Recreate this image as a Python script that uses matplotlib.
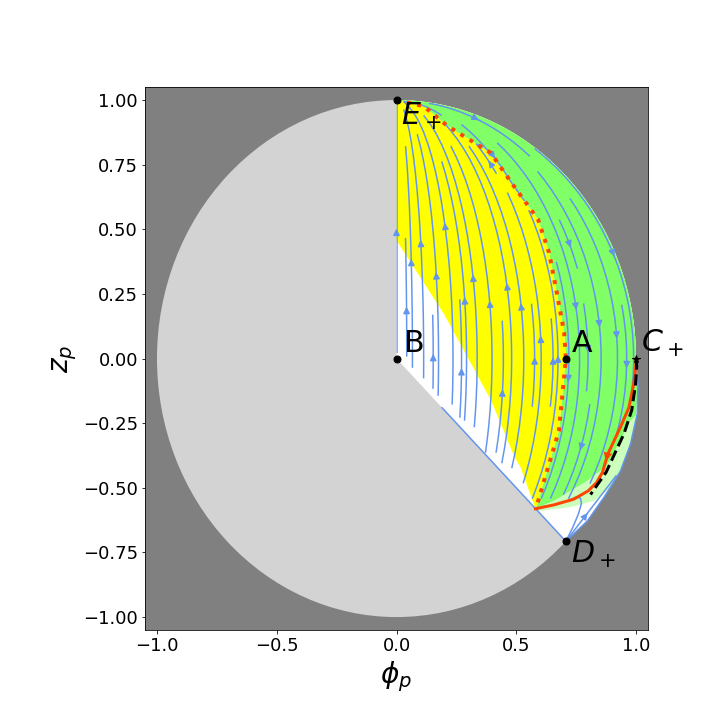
import numpy as np
import matplotlib
matplotlib.use("Agg")
import matplotlib.pyplot as plt
from matplotlib.patches import Polygon, Circle
from matplotlib.path import Path

# fixed points of the flow (phi_p, z_p)
point_labels = ["$E_+$", "B", "A", "$C_+$", "$D_+$"]
point_x = [0.0, 0.0, 0.707, 1.0, 0.707]
point_y = [1.0, 0.0, 0.0, 0.0, -0.707]
label_x = [0.02, 0.03, 0.733, 1.02, 0.727]
label_y = [0.905, 0.025, 0.025, 0.025, -0.79]

# separatrix E+ -> A -> P (dotted red)
sep_x = [0.0, 0.114, 0.212, 0.393, 0.49, 0.591, 0.637, 0.664, 0.70, 0.707, 0.678, 0.616, 0.588, 0.58]
sep_y = [1.0, 0.976, 0.90, 0.796, 0.667, 0.538, 0.409, 0.28, 0.10, 0.0, -0.28, -0.473, -0.562, -0.581]

# orbit P -> C+ (solid orange-red)
orbit_x = [0.58, 0.657, 0.74, 0.80, 0.835, 0.86, 0.882, 0.935, 0.97, 0.99, 0.999, 1.0]
orbit_y = [-0.581, -0.566, -0.544, -0.512, -0.48, -0.44, -0.37, -0.265, -0.19, -0.1, -0.03, 0.0]

# dashed curve from C+
dash_x = [1.0, 1.003, 0.998, 0.982, 0.95, 0.91, 0.875, 0.81]
dash_y = [0.0, -0.03, -0.1, -0.2, -0.29, -0.37, -0.44, -0.526]

# lower edge of the physical region, D+ -> C+
edge_x = [0.707, 0.797, 0.866, 0.935, 0.977, 1.005, 1.008, 1.003, 1.0]
edge_y = [-0.707, -0.628, -0.537, -0.435, -0.33, -0.213, -0.1, -0.03, 0.0]

# lower edge of the yellow region
yel_x = [0.0, 0.199, 0.396, 0.494, 0.518, 0.58]
yel_y = [0.457, 0.171, -0.164, -0.384, -0.42, -0.581]

# pale green band around the orbit: upper and lower edges
pale_top_x = [0.58, 0.657, 0.797, 0.879, 0.935, 0.977, 1.0]
pale_top_y = [-0.581, -0.551, -0.473, -0.414, -0.317, -0.24, -0.22]
pale_bot_x = [0.925, 0.894, 0.824, 0.727, 0.601, 0.58]
pale_bot_y = [-0.45, -0.5, -0.551, -0.575, -0.589, -0.581]

# streamlines leaving D+: along the B-D+ edge and the small hook
diag_x = [0.19, 0.707]
diag_y = [-0.19, -0.707]
hook_x = [0.707, 0.735, 0.76, 0.772, 0.768, 0.75, 0.728]
hook_y = [-0.707, -0.655, -0.6, -0.56, -0.54, -0.535, -0.545]

LINE_BLUE = "cornflowerblue"
ORANGE_RED = "orangered"


def xy(xs, ys):
    return list(zip(xs, ys))


def main() -> None:
    fig = plt.figure(figsize=(10, 10), dpi=72)
    ax = fig.add_axes([0.2014, 0.125, 0.6986, 0.754])
    ax.set_facecolor("gray")
    ax.set_xlim(-1.05, 1.05)
    ax.set_ylim(-1.05, 1.05)

    ax.add_patch(Circle((0, 0), 1.0, fc="lightgray", ec="none", zorder=0.5))

    ang = np.linspace(0, np.pi / 2, 80)
    arc = list(zip(np.cos(ang), np.sin(ang)))  # C+ -> E+
    sep = xy(sep_x, sep_y)
    orbit = xy(orbit_x, orbit_y)
    edge = xy(edge_x, edge_y)

    physical = [(0.0, 0.0)] + edge + arc[1:]
    ax.add_patch(Polygon(physical, closed=True, fc="white", ec="none", zorder=1))

    # E+ -> down the separatrix -> along the pale band -> up the edge -> arc back to E+
    upper_edge = [p for p in edge if p[1] > -0.2]
    green = sep + xy(pale_top_x, pale_top_y)[1:] + upper_edge + arc[1:]
    ax.add_patch(Polygon(green, closed=True, fc="#80ff66", ec="none", zorder=2))

    yellow = sep + xy(yel_x, yel_y)[::-1][1:]
    ax.add_patch(Polygon(yellow, closed=True, fc="yellow", ec="none", zorder=2))

    mid_edge = [p for p in edge[::-1] if -0.45 < p[1] < -0.2]
    pale = xy(pale_top_x, pale_top_y) + mid_edge + xy(pale_bot_x, pale_bot_y)
    ax.add_patch(Polygon(pale, closed=True, fc="#ccffbb", ec="none", zorder=2))

    # flow field: upper part follows arcs through E+, reversing at the separatrix
    gx = np.linspace(0.0, 1.02, 160)
    gy = np.linspace(-0.72, 1.0, 220)
    X, Y = np.meshgrid(gx, gy)
    pts = np.column_stack([X.ravel(), Y.ravel()])

    upper_poly = [(0.0, 0.0)] + orbit + arc[1:]
    inside = Path(upper_poly + [(0.0, 0.0)]).contains_points(pts, radius=0.01).reshape(X.shape)
    xsep = np.interp(Y, sep_y[::-1], sep_x[::-1])
    s = xsep - X
    U = np.where(inside, -X * Y * s, np.nan)
    V = np.where(inside, (1 - Y ** 2) * s, np.nan)
    sp = ax.streamplot(X, Y, U, V, density=(0.95, 1.0), color=LINE_BLUE,
                       linewidth=1.5, arrowsize=1.3, zorder=3)
    clip = Polygon(upper_poly, closed=True, fc="none", ec="none")
    ax.add_patch(clip)
    sp.lines.set_clip_path(clip)

    # lower part: flow leaves D+
    lower_poly = [(0.58, -0.581), (0.707, -0.707)] + edge[1:] + orbit[::-1][1:]
    inside2 = Path(lower_poly).contains_points(pts, radius=0.01).reshape(X.shape)
    U2 = np.where(inside2, X - 0.707, np.nan)
    V2 = np.where(inside2, Y + 0.707, np.nan)
    ax.streamplot(X, Y, U2, V2, density=(0.6, 0.6), color=LINE_BLUE,
                  linewidth=1.5, arrowsize=1.3, zorder=3)

    ax.plot(edge_x, edge_y, color=LINE_BLUE, lw=1.5, zorder=3)
    ax.plot(diag_x, diag_y, color=LINE_BLUE, lw=1.5, zorder=3)
    ax.plot(hook_x, hook_y, color=LINE_BLUE, lw=1.5, zorder=3)

    ax.plot(sep_x, sep_y, color=ORANGE_RED, ls=":", lw=4, zorder=4)
    ax.plot(orbit_x, orbit_y, color=ORANGE_RED, lw=3, zorder=4)
    ax.annotate("", xy=(0.872, -0.405), xytext=(0.892, -0.33),
                arrowprops=dict(arrowstyle="-|>", color=ORANGE_RED, lw=0,
                                mutation_scale=22), zorder=4)
    ax.plot(dash_x, dash_y, color="black", ls="--", lw=3, zorder=4)

    for i, lab in enumerate(point_labels):
        marker = "*" if lab == "$C_+$" else "o"
        ms = 8 if marker == "*" else 7
        ax.plot(point_x[i], point_y[i], marker=marker, color="black", ms=ms,
                zorder=5, clip_on=False)
        ax.text(label_x[i], label_y[i], lab, fontsize=30, zorder=6,
                ha="left", va="baseline")

    ax.set_xlabel(r"$\phi_p$", fontsize=28)
    ax.set_ylabel(r"$z_p$", fontsize=28)
    ax.set_yticks(np.arange(-1.0, 1.01, 0.25))
    ax.set_xticks(np.arange(-1.0, 1.01, 0.5))
    ax.tick_params(labelsize=18)

    fig.savefig("out.png", dpi=72)
    plt.close(fig)


if __name__ == "__main__":
    main()
